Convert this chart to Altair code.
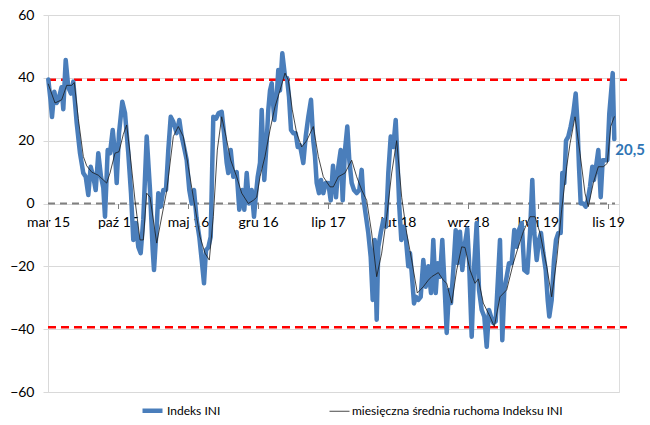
import altair as alt
import pandas as pd

# x = months since March 2015, y = index value
ini_m = [0.03,0.25,0.4,0.63,0.87,1.05,1.2,1.35,1.53,1.77,2.03,2.3,2.53,2.87,3.2,3.53,3.77,4.03,4.27,4.53,
         4.77,5.03,5.3,5.53,5.7,5.97,6.2,6.47,6.7,6.87,7.1,7.43,7.7,8.03,8.3,8.53,8.77,9.03,9.27,9.53,
         9.87,10.2,10.47,10.6,10.87,11.03,11.27,11.53,11.8,12.03,12.27,12.53,12.87,13.13,13.37,13.6,13.87,14.13,14.37,14.6,
         14.87,15.13,15.37,15.6,15.8,16.03,16.27,16.53,16.8,17.07,17.37,17.6,17.87,18.03,18.27,18.53,18.87,19.13,19.43,19.63,
         19.87,20.1,20.37,20.6,20.77,20.97,21.2,21.37,21.63,21.87,22.03,22.2,22.37,22.63,22.87,23.03,23.2,23.43,23.7,23.9,
         24.1,24.3,24.53,24.77,24.97,25.2,25.53,25.77,26.03,26.3,26.53,26.7,26.87,27.1,27.3,27.53,27.77,28.03,28.27,28.5,
         28.8,29.03,29.27,29.47,29.7,29.93,30.13,30.37,30.6,30.87,31.13,31.37,31.53,31.8,32.03,32.27,32.47,32.67,32.87,33.03,
         33.27,33.53,33.8,34.03,34.27,34.53,34.77,34.97,35.13,35.33,35.53,35.8,36.03,36.2,36.37,36.6,36.8,37.03,37.27,37.53,
         37.77,38.03,38.3,38.53,38.77,38.97,39.2,39.43,39.63,39.87,40.1,40.3,40.53,40.77,40.97,41.2,41.43,41.7,41.93,42.1,
         42.37,42.63,42.87,43.1,43.37,43.63,43.87,44.1,44.3,44.53,44.77,44.97,45.2,45.43,45.63,45.87,46.1,46.37,46.63,46.87,
         47.1,47.37,47.63,47.93,48.2,48.43,48.63,48.87,49.1,49.3,49.53,49.77,49.97,50.13,50.37,50.6,50.8,51.03,51.27,51.43,
         51.63,51.8,52.03,52.27,52.53,52.77,52.93,53.1,53.27,53.53,53.77,53.97,54.2,54.43,54.6,54.8,55.03,55.27,55.47,55.7,
         55.93,56.13,56.3,56.47,56.63]
ini_v = [39.5,33,27.5,35.6,32,33,35,37,30,45.7,37,35,38.8,25.6,16,9.7,8.5,2.7,11.7,8.5,
         4.3,16,8.5,5,-4.2,17,16,23.4,16,6.5,22.4,32.4,28.8,16,3.3,-11.6,-6.2,-13.8,-15.8,-5,
         21.3,4.3,-14.8,-21.2,-7.4,3.3,-1,4.3,4.3,17,27.6,26,22.4,26.6,21.3,18,13.8,4.3,0,4.3,
         -5.3,-10.6,-18,-25.4,-14.8,-14,-10.6,27.6,27,28.8,29.2,22.4,12.9,9.7,17,8.5,10,-2,4.3,-2,
         9.7,0,4.3,-4.2,2,8.5,12.9,29.8,7.5,20,29.8,36,38.3,26.6,34,42.5,36,47.8,40.4,40,
         34,23.4,22.4,22.4,18,18.5,12.9,21.3,27.6,33,20,15,6.5,3.3,7.5,3.3,6.5,6.5,1,12,
         2,11.7,17,1,17,24.5,13.8,6.5,4.3,3.3,4.3,10.7,2,-4.2,-9.4,-17,-30.7,-11.6,-37,-13.8,
         -9.4,-5.3,-7.4,9.7,21.3,18,26.6,11.7,-1,-11.6,-7.4,-11.6,-20,-15.8,-22,-31.8,-29.7,-30.7,-29.7,-18,
         -26.5,-20,-28.5,-11.6,-28.5,-19,-23.3,-11.6,-24.4,-41.2,-27.5,-31.7,-21.2,-8.5,-19,-9,-21.2,-12.6,-8,-18,
         -42.4,-19,-6.2,-27.5,-33.9,-36,-45.6,-33.9,-36,-38,-37.5,-25.4,-11.6,-43.5,-27.5,-23.3,-19,-19,-8.4,-13.8,
         -8.4,-6.2,-21.2,-22,-9.4,7.5,-9.4,-18,-11.6,-9.4,-15.8,-21.2,-30.7,-36,-30.7,-18,-11.6,-9.4,-9.4,9.7,
         6.5,20,21.3,24.5,28.8,35,26.6,11.7,0,0,-1,1,5.3,11.7,7.5,11.7,17,2,13.8,13.8,
         13.8,28.7,35,41.5,20.5]

ma_m = [0.03,0.7,1.37,1.87,2.37,2.63,3.03,3.53,3.87,4.37,5.03,5.53,5.87,6.2,6.7,7.1,7.53,7.87,8.2,8.7,
        9.2,9.53,9.87,10.2,10.87,11.87,12.53,13.03,13.53,14.03,14.53,15.2,15.7,16.13,16.53,16.93,17.37,17.8,18.27,18.87,
        19.37,20.03,20.53,20.87,21.2,21.7,22.2,22.7,23.2,23.7,24.03,24.43,24.87,25.37,25.87,26.53,27.03,27.53,28.2,28.53,
        29.03,29.7,30.37,30.87,31.37,31.87,32.37,32.87,33.37,33.87,34.37,34.87,35.37,35.87,36.37,36.93,37.53,38.03,38.37,39.03,
        39.53,39.87,40.37,40.87,41.37,41.7,42.2,42.7,43.03,43.53,44.2,44.63,45.2,45.87,46.53,47.03,47.53,48.2,48.7,49.2,
        49.87,50.37,50.87,51.37,51.87,52.2,52.7,53.2,53.7,54.03,54.53,55.03,55.53,55.93,56.27,56.63]
ma_v = [38,32,33,37.6,37.6,38.5,27,15,12,10,9,7.5,6.5,9.7,16,16.5,22,25,16,1,
        -11.6,-11.6,3.3,2,-12.6,4,21.3,24.5,21.3,11.7,2,-10.6,-15.8,-18,-4.2,17,27.6,21.3,13.8,8.5,
        3.3,0,1,2,8.5,15,23.4,30.8,36,41.5,39.3,29.8,22.4,18,20,24.5,15,8.5,5.3,5.3,
        8.5,9.7,13.8,8.5,4.3,1,-9.4,-23.3,-15.8,-4.2,9.7,20,2,-9.4,-18,-28.5,-26.5,-24.4,-23.3,-22,
        -24.4,-25.4,-31.7,-21.2,-13.8,-14,-21.2,-25.4,-24,-31.7,-36,-39.2,-29.7,-27.5,-19,-13.8,-9,-4.2,-4.2,-9.4,
        -20,-29.7,-18,-2,11.7,19,27.6,16,3.3,-1,6.5,11.7,11.7,12.8,24.5,27.6]

series_names = ["Indeks INI", "miesięczna średnia ruchoma Indeksu INI"]
tick_months = [0, 7, 14, 21, 28, 35, 42, 49, 56]
tick_labels = ["mar 15", "paź 15", "maj 16", "gru 16", "lip 17", "lut 18", "wrz 18", "kwi 19", "lis 19"]
y_ticks = [-60, -40, -20, 0, 20, 40, 60]
band_levels = [39.4, -39.4]
last_label = "20,5"

W, H = 571, 377
FONT = "Lato"

df = pd.concat([
    pd.DataFrame({"m": ini_m, "v": ini_v, "s": series_names[0], "o": 0}),
    pd.DataFrame({"m": ma_m, "v": ma_v, "s": series_names[1], "o": 1}),
], ignore_index=True)

label_expr = "[" + ",".join("'%s'" % t for t in tick_labels) + "][datum.value / 7]"

xs = alt.Scale(domain=[0, 57.1], nice=False, zero=False)
ys = alt.Scale(domain=[-60, 60], nice=False)

base_y_axis = alt.Axis(values=y_ticks, grid=True, gridColor="#D9D9D9", gridWidth=1,
                       domainColor="#D9D9D9", tickColor="#D9D9D9", tickSize=5,
                       labelFont=FONT, labelFontSize=14, labelColor="#000000",
                       labelPadding=9, title=None)
x_axis = alt.Axis(values=tick_months, labelExpr=label_expr, offset=-H / 2,
                  domain=False, grid=False, tickColor="#808080", tickSize=5, tickWidth=1,
                  labelFont=FONT, labelFontSize=14, labelColor="#000000", labelPadding=7,
                  labelFlush=False, title=None)

legend = alt.Legend(title=None, orient="none", direction="horizontal",
                    legendX=92, legendY=383, symbolType="stroke",
                    symbolSize=400, labelFont=FONT, labelFontSize=12, labelLimit=400,
                    labelColor="#000000", labelOffset=2, columnPadding=106)

zero_line = alt.Chart(pd.DataFrame({"v": [0]})).mark_rule(
    color="#808080", strokeWidth=1.8, strokeDash=[7, 5]
).encode(y=alt.Y("v:Q", scale=ys, axis=base_y_axis), x=alt.value(0), x2=alt.value(W - 4))

red_lines = alt.Chart(pd.DataFrame({"v": band_levels})).mark_rule(
    color="#FF0000", strokeWidth=2.5, strokeDash=[8, 5]
).encode(y=alt.Y("v:Q", scale=ys), x=alt.value(0), x2=alt.value(W + 8))

lines = alt.Chart(df).mark_line(strokeJoin="round", strokeCap="round").encode(
    x=alt.X("m:Q", scale=xs, axis=x_axis),
    y=alt.Y("v:Q", scale=ys),
    color=alt.Color("s:N", scale=alt.Scale(domain=series_names, range=["#4A7EBB", "#1A1A1A"]),
                    legend=legend),
    strokeWidth=alt.StrokeWidth("s:N", scale=alt.Scale(domain=series_names, range=[4.5, 0.8]),
                                legend=legend),
    order="o:Q",
)

last = alt.Chart(pd.DataFrame({"m": [ini_m[-1]], "v": [ini_v[-1]], "t": [last_label]})).mark_text(
    align="left", baseline="middle", dx=1, dy=11, font=FONT, fontSize=15, fontWeight="bold",
    color="#2F75B5"
).encode(x=alt.X("m:Q", scale=xs), y=alt.Y("v:Q", scale=ys), text="t:N")

chart = alt.layer(zero_line, red_lines, lines, last).properties(
    width=W, height=H,
    autosize=alt.AutoSizeParams(type="none"),
    padding={"left": 48, "top": 15, "right": 31, "bottom": 33},
).configure_view(stroke=None).configure(background="white")

chart.save("out.html", embed_options={"renderer": "svg", "actions": False})
